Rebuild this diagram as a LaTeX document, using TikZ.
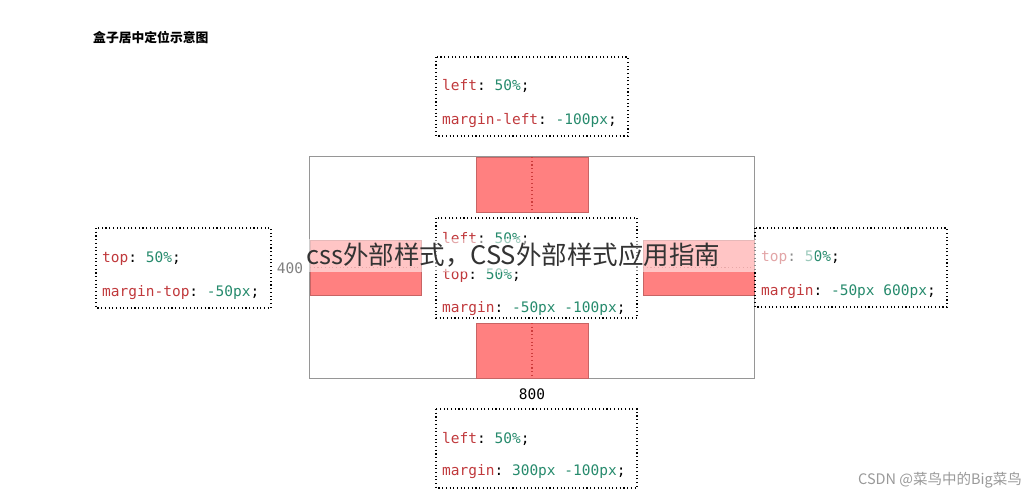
\documentclass[tikz,border=0pt]{standalone}
\usepackage{xcolor}
\usepackage{fontspec}
\setmonofont{DejaVu Sans Mono}
\newfontfamily\cjk{Noto Sans CJK SC}
\usepackage{tikz}

\definecolor{propred}{RGB}{192,57,60}
\definecolor{valgreen}{RGB}{38,138,108}
\definecolor{boxred}{RGB}{255,128,128}
\definecolor{boxedge}{RGB}{200,100,100}
\definecolor{midline}{RGB}{205,60,60}
\definecolor{framegray}{RGB}{150,150,150}
\newcommand{\prop}[1]{\textcolor{propred}{#1}}
\newcommand{\val}[1]{\textcolor{valgreen}{#1}}

\begin{document}
\begin{tikzpicture}[x=1pt,y=1pt,
        codebox/.style={black, line width=1.1pt, dash pattern=on 1.1pt off 2.6pt},
        codeline/.style={anchor=mid west, font=\ttfamily\fontsize{14.5}{16}\selectfont},
        redbox/.style={fill=boxred, draw=boxedge, line width=0.7pt},
        midmark/.style={midline, line width=1.1pt, dash pattern=on 1.1pt off 2.6pt}]
        \tikzstyle{every node}+=[inner sep=0pt]
        \useasboundingbox (0,0) rectangle (1028,-490);
        % title
        \node (title) [anchor=west] at (93,-37.5) {\cjk\bfseries\fontsize{12.8}{14}\selectfont 盒子居中定位示意图};
        % outer box, 800 x 400
        \draw [framegray, line width=1.3pt] (309.5,-156.5) rectangle (754.5,-378.5);
        \node (w400) [font=\ttfamily\fontsize{14.5}{16}\selectfont, text=gray] at (290,-268) {400};
        \node (w800) [font=\ttfamily\fontsize{14.5}{16}\selectfont] at (532,-394) {800};
        % red boxes
        \draw [redbox] (476,-157) rectangle (588,-212);
        \draw [midmark] (532,-157) -- (532,-212);
        \draw [redbox] (476,-323) rectangle (588,-378);
        \draw [midmark] (532,-323) -- (532,-378);
        \draw [redbox] (310,-240) rectangle (421,-295);
        \draw [midmark] (310,-267.5) -- (421,-267.5);
        \draw [redbox] (643,-240) rectangle (754,-295);
        \draw [midmark] (643,-267.5) -- (754,-267.5);
        % top
        \draw [codebox] (436,-57) rectangle (628,-136);
        \node (tl1) [codeline] at (442,-88) {\prop{left}: \val{50\%};};
        \node (tl2) [codeline] at (442,-122) {\prop{margin-left}: \val{-100px};};
        % left
        \draw [codebox] (96,-228) rectangle (271,-308);
        \node (ll1) [codeline] at (102,-260) {\prop{top}: \val{50\%};};
        \node (ll2) [codeline] at (102,-294) {\prop{margin-top}: \val{-50px};};
        % center
        \draw [codebox] (436,-218) rectangle (637,-318);
        \node (cl1) [codeline] at (442,-241) {\prop{left}: \val{50\%};};
        \node (cl2) [codeline] at (442,-277) {\prop{top}: \val{50\%};};
        \node (cl3) [codeline] at (442,-310) {\prop{margin}: \val{-50px -100px};};
        % right
        \draw [codebox] (755,-228) rectangle (947,-307);
        \node (rl1) [codeline] at (761,-259) {\prop{top}: \val{50\%};};
        \node (rl2) [codeline] at (761,-293) {\prop{margin}: \val{-50px 600px};};
        % bottom
        \draw [codebox] (436,-409) rectangle (637,-488);
        \node (bl1) [codeline] at (442,-441) {\prop{left}: \val{50\%};};
        \node (bl2) [codeline] at (442,-473) {\prop{margin}: \val{300px -100px};};
        % overlay band and marks
        \fill [white, opacity=0.55] (305,-239) rectangle (815,-272);
        \node (wm) [anchor=base west, font=\cjk\fontsize{25.5}{26}\selectfont, text=black!80] at (306,-264) {css外部样式，CSS外部样式应用指南};
        \node (csdn) [anchor=east, font=\cjk\fontsize{14.5}{16}\selectfont, text=black!40] at (1022,-480) {CSDN @菜鸟中的Big菜鸟};
    \end{tikzpicture}
\end{document}
